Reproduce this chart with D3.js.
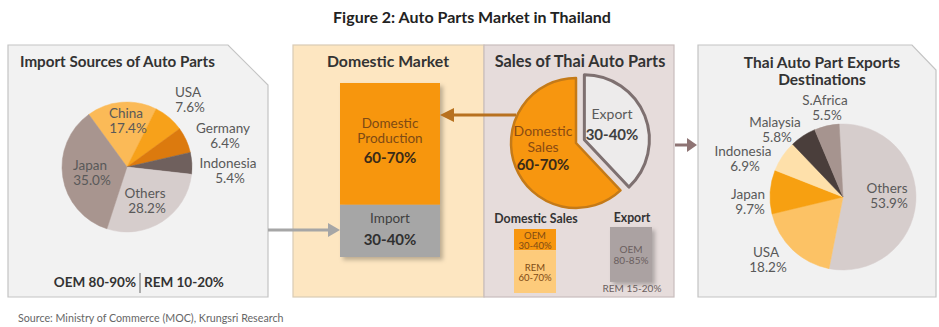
<!DOCTYPE html>
<html><head><meta charset="utf-8">
<script src="https://cdn.jsdelivr.net/npm/d3@7"></script>
<style>
html,body{margin:0;padding:0;background:#fff;}
svg{display:block;font-family:Lato,"Open Sans",sans-serif;}
</style></head>
<body><svg id="c" width="939" height="327"></svg>
<script>
// ---------- DATA ----------
const figureTitle = "Figure 2: Auto Parts Market in Thailand";
const sourceText = "Source: Ministry of Commerce (MOC), Krungsri Research";

const importCategories = ["China", "USA", "Germany", "Indonesia", "Others", "Japan"];
const importValues = [17.4, 7.6, 6.4, 5.4, 28.2, 35.0];

const marketCategories = ["Domestic Production", "Import"];
const marketValues = [70, 30];
const marketRanges = ["60-70%", "30-40%"];

const salesCategories = ["Export", "Domestic Sales"];
const salesValues = [38, 62];
const salesRanges = ["30-40%", "60-70%"];

const domesticSplitCategories = ["OEM", "REM"];
const domesticSplitValues = [33, 67];
const domesticSplitRanges = ["30-40%", "60-70%"];

const exportSplitCategories = ["OEM", "REM"];
const exportSplitValues = [82, 18];
const exportSplitRanges = ["80-85%", "15-20%"];

const exportCategories = ["Others", "USA", "Japan", "Indonesia", "Malaysia", "S.Africa"];
const exportValues = [53.9, 18.2, 9.7, 6.9, 5.8, 5.5];

const oemRemImport = ["OEM 80-90%", "REM 10-20%"];

// ---------- STYLE / LAYOUT ----------
const importColors = {China:"#FBBA57", USA:"#F7A11A", Germany:"#DC7A0E", Indonesia:"#6F605D", Others:"#D6CDCC", Japan:"#A8958F"};
const exportColors = {Others:"#D6CDCC", USA:"#FCC265", Japan:"#F7A011", Indonesia:"#FEE0AA", Malaysia:"#4A3E3B", "S.Africa":"#A6948F"};
// label offsets relative to pie centre (first-line baseline)
const importLabelPos = {China:[-1,-49], USA:[61,-70], Germany:[96,-34], Indonesia:[101,1], Others:[18,31], Japan:[-37,3]};
const exportLabelPos = {Others:[44,-4], USA:[-77,60], Japan:[-95,2], Indonesia:[-100,-41], Malaysia:[-68,-70], "S.Africa":[-18,-92]};

const svg = d3.select("#c");
const defs = svg.append("defs");
const sh = defs.append("filter").attr("id","shadow").attr("x","-20%").attr("y","-20%").attr("width","150%").attr("height","150%");
sh.append("feDropShadow").attr("dx",3).attr("dy",3).attr("stdDeviation",2).attr("flood-color","#000").attr("flood-opacity",0.25);

const TXT = "#595959", TITLE = "#333333";
const LS = 14.5; // line spacing
const LF = 13.5; // label font size

// title
svg.append("text").attr("x",472).attr("y",23).attr("text-anchor","middle")
  .attr("font-weight","bold").attr("font-size",16).attr("fill","#222").text(figureTitle);
svg.append("text").attr("x",18).attr("y",322).attr("font-size",10.7).attr("fill","#666").text(sourceText);

// ---------- panels ----------
svg.append("path").attr("d","M8,45 H228 L268,85 V297 H8 Z").attr("fill","#F2F2F2").attr("stroke","#C4C4C4").attr("stroke-width",1.2);
svg.append("rect").attr("x",293).attr("y",45).attr("width",191).attr("height",252).attr("fill","#FDE6C1").attr("stroke","#D9CBB5").attr("stroke-width",1.2);
svg.append("rect").attr("x",484).attr("y",45).attr("width",190).attr("height",252).attr("fill","#E6DCDB").attr("stroke","#C9BDBC").attr("stroke-width",1.2);
svg.append("path").attr("d","M698,45 H912 L936,70 V297 H698 Z").attr("fill","#F1F1F1").attr("stroke","#C4C4C4").attr("stroke-width",1.2);

function title(x,y,lines,size,gap){
  lines.forEach((t,i)=>svg.append("text").attr("x",x).attr("y",y+i*(gap||17)).attr("text-anchor","middle")
    .attr("font-weight","bold").attr("font-size",size).attr("fill",TITLE).text(t));
}
svg.append("text").attr("x",20).attr("y",67).attr("font-weight","bold").attr("font-size",15.2).attr("fill",TITLE).text("Import Sources of Auto Parts");
title(388,67,["Domestic Market"],15.8);
title(580,67,["Sales of Thai Auto Parts"],16.3);
title(822,67.5,["Thai Auto Part Exports","Destinations"],15.5,17.8);

// ---------- pie helper ----------
function drawPie(cats, vals, colors, cx, cy, r, start, labelPos){
  const data = cats.map((c,i)=>({cat:c, v:vals[i]}));
  const pie = d3.pie().sort(null).value(d=>d.v).startAngle(start).endAngle(start+2*Math.PI);
  const arc = d3.arc().innerRadius(0).outerRadius(r);
  const g = svg.append("g").attr("transform",`translate(${cx},${cy})`);
  g.selectAll("path").data(pie(data)).join("path").attr("d",arc).attr("fill",d=>colors[d.data.cat])
    .attr("stroke",d=>colors[d.data.cat]).attr("stroke-width",0.5);
  data.forEach(d=>{
    const p = labelPos[d.cat];
    g.append("text").attr("text-anchor","middle").attr("font-size",LF).attr("fill",TXT)
      .attr("x",p[0]).attr("y",p[1]).text(d.cat);
    g.append("text").attr("text-anchor","middle").attr("font-size",LF).attr("fill",TXT)
      .attr("x",p[0]+2).attr("y",p[1]+LS).text(d.v.toFixed(1)+"%");
  });
}
drawPie(importCategories, importValues, importColors, 127, 167, 65, -36*Math.PI/180, importLabelPos);

svg.append("text").attr("x",136).attr("y",287).attr("text-anchor","end").attr("font-weight","bold").attr("font-size",13.5).attr("fill","#333").text(oemRemImport[0]);
svg.append("line").attr("x1",140).attr("x2",140).attr("y1",273).attr("y2",293).attr("stroke","#666").attr("stroke-width",1);
svg.append("text").attr("x",144).attr("y",287).attr("font-weight","bold").attr("font-size",13.5).attr("fill","#333").text(oemRemImport[1]);

// ---------- domestic market stacked bar ----------
const yBar = d3.scaleLinear().domain([0, d3.sum(marketValues)]).range([257, 83]);
const xBar = d3.scaleBand().domain(["market"]).range([340,440]);
const barColors = ["#F7960F","#A6A6A6"];
const barG = svg.append("g").attr("filter","url(#shadow)");
const stackOrder = [1,0]; // import at bottom
const segs = [];
let acc = 0;
stackOrder.forEach(i=>{ segs[i] = {y0:acc, y1:acc+marketValues[i]}; acc += marketValues[i]; });
marketCategories.forEach((c,i)=>{
  barG.append("rect").attr("x",xBar("market")).attr("width",xBar.bandwidth())
    .attr("y",yBar(segs[i].y1)).attr("height",yBar(segs[i].y0)-yBar(segs[i].y1)).attr("fill",barColors[i]);
});
{
  const cx = xBar("market")+xBar.bandwidth()/2;
  const words = marketCategories[0].split(" ");
  svg.append("text").attr("text-anchor","middle").attr("font-size",LF).attr("x",cx).attr("y",128).attr("fill","#7E4A14").text(words[0]);
  svg.append("text").attr("text-anchor","middle").attr("font-size",LF).attr("x",cx).attr("y",142.5).attr("fill","#7E4A14").text(words[1]);
  svg.append("text").attr("text-anchor","middle").attr("font-size",15).attr("font-weight","bold").attr("x",cx).attr("y",163).attr("fill","#3A2A18").text(marketRanges[0]);
  svg.append("text").attr("text-anchor","middle").attr("font-size",LF).attr("x",cx).attr("y",223).attr("fill","#404040").text(marketCategories[1]);
  svg.append("text").attr("text-anchor","middle").attr("font-size",15).attr("font-weight","bold").attr("x",cx).attr("y",245).attr("fill","#303030").text(marketRanges[1]);
}

// ---------- arrows ----------
function arrow(x1,x2,y,color,w,hl,hw){
  const dir = Math.sign(x2-x1);
  svg.append("line").attr("x1",x1).attr("x2",x2-dir*hl).attr("y1",y).attr("y2",y).attr("stroke",color).attr("stroke-width",w);
  svg.append("path").attr("d",`M${x2},${y} L${x2-dir*hl},${y-hw} L${x2-dir*hl},${y+hw} Z`).attr("fill",color);
}
arrow(268,340,230,"#A6A6A6",3,12,7);
arrow(516,440,115,"#B8711F",3,14,7);
arrow(675,697,145,"#8E7474",3,10,7);

// ---------- sales pie ----------
{
  const cx=576, cy=143, r=65;
  const data = salesCategories.map((c,i)=>({cat:c,v:salesValues[i]}));
  const pie = d3.pie().sort(null).value(d=>d.v);
  const arc = d3.arc().innerRadius(0).outerRadius(r);
  const g = svg.append("g").attr("transform",`translate(${cx},${cy})`);
  pie(data).forEach((d,i)=>{
    const mid=(d.startAngle+d.endAngle)/2;
    const off = i===0 ? 9 : 0;
    g.append("path").attr("d",arc(d))
      .attr("transform",`translate(${off*Math.sin(mid)},${-off*Math.cos(mid)})`)
      .attr("fill", i===0 ? "#EDEBEB" : "#F7960F")
      .attr("stroke", i===0 ? "#7E7070" : "#C47A18").attr("stroke-width", i===0?3:2.5).attr("stroke-linejoin","round");
  });
  const words = salesCategories[1].split(" ");
  svg.append("text").attr("text-anchor","middle").attr("font-size",14).attr("x",543).attr("y",136).attr("fill","#8A4B12").text(words[0]);
  svg.append("text").attr("text-anchor","middle").attr("font-size",14).attr("x",543).attr("y",151.5).attr("fill","#8A4B12").text(words[1]);
  svg.append("text").attr("text-anchor","middle").attr("font-size",15).attr("font-weight","bold").attr("x",543).attr("y",170).attr("fill","#3A2A18").text(salesRanges[1]);
  svg.append("text").attr("text-anchor","middle").attr("font-size",14).attr("x",612).attr("y",119).attr("fill","#5A5A5A").text(salesCategories[0]);
  svg.append("text").attr("text-anchor","middle").attr("font-size",15).attr("font-weight","bold").attr("x",612).attr("y",140).attr("fill","#404040").text(salesRanges[0]);
}

// ---------- split boxes ----------
svg.append("text").attr("x",536).attr("y",223).attr("text-anchor","middle").attr("font-weight","bold").attr("font-size",12.3).attr("fill","#333").text("Domestic Sales");
svg.append("text").attr("x",632).attr("y",222).attr("text-anchor","middle").attr("font-weight","bold").attr("font-size",12.3).attr("fill","#333").text("Export");
{
  const y = d3.scaleLinear().domain([0,d3.sum(domesticSplitValues)]).range([229,293]);
  const cols = ["#F7960F","#FDCB7B"];
  let a=0;
  domesticSplitCategories.forEach((c,i)=>{
    const y0=y(a), y1=y(a+domesticSplitValues[i]); a+=domesticSplitValues[i];
    svg.append("rect").attr("x",514).attr("width",42).attr("y",y0).attr("height",y1-y0).attr("fill",cols[i]);
    svg.append("text").attr("text-anchor","middle").attr("font-size",9.5).attr("fill","#7E4A14").attr("x",535).attr("y",(y0+y1)/2-1).text(c);
    svg.append("text").attr("text-anchor","middle").attr("font-size",9.5).attr("fill","#7E4A14").attr("x",535).attr("y",(y0+y1)/2+9).text(domesticSplitRanges[i]);
  });
}
{
  const y = d3.scaleLinear().domain([0,d3.sum(exportSplitValues)]).range([227,294]);
  const y0=y(0), y1=y(exportSplitValues[0]);
  svg.append("rect").attr("x",610).attr("width",42).attr("y",y0).attr("height",y1-y0).attr("fill","#ABA2A2").attr("filter","url(#shadow)");
  svg.append("text").attr("text-anchor","middle").attr("font-size",10).attr("fill","#6A5E5E").attr("x",631).attr("y",(y0+y1)/2-1).text(exportSplitCategories[0]);
  svg.append("text").attr("text-anchor","middle").attr("font-size",10).attr("fill","#6A5E5E").attr("x",631).attr("y",(y0+y1)/2+9.5).text(exportSplitRanges[0]);
  svg.append("text").attr("x",632).attr("y",(y1+y(d3.sum(exportSplitValues)))/2+4).attr("text-anchor","middle").attr("font-size",10).attr("fill","#6A5E5E")
    .text(exportSplitCategories[1]+" "+exportSplitRanges[1]);
}

// ---------- export destinations pie ----------
drawPie(exportCategories, exportValues, exportColors, 843, 197, 73, -3*Math.PI/180, exportLabelPos);
</script></body></html>
